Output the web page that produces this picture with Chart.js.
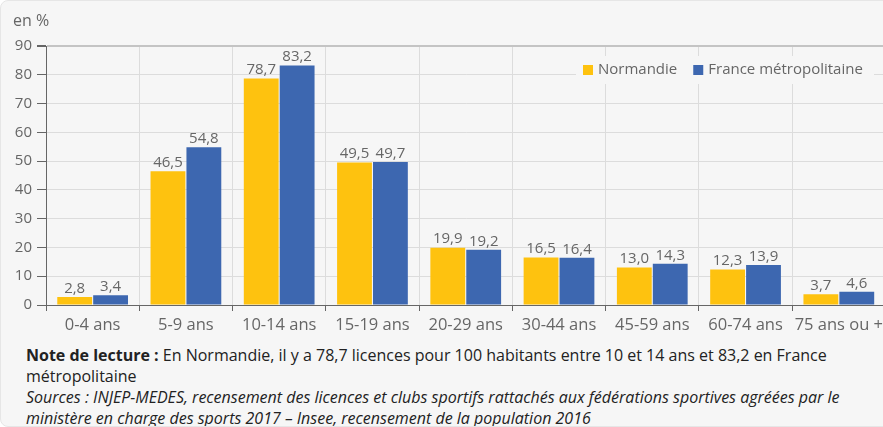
<!DOCTYPE html>
<html lang="fr">
<head>
<meta charset="utf-8">
<script src="https://cdn.jsdelivr.net/npm/chart.js@4.4.1/dist/chart.umd.min.js"></script>
<style>
  html, body { margin: 0; padding: 0; background: #ffffff; overflow: hidden; }
  #card {
    position: relative; width: 900px; height: 427px; overflow: hidden;
    background: #f6f6f6; border-radius: 8px; box-sizing: border-box;
    border: 1px solid #e6e6e6;
    font-family: "Open Sans", sans-serif;
  }
  #wrap { position: absolute; left: 0; top: 0; width: 886px; height: 335px; }
  #unit { position: absolute; left: 12px; top: 8px; font-size: 16px; color: #666; }
  #note {
    position: absolute; left: 25px; top: 344px;
    font-size: 16px; line-height: 21px; color: #222; white-space: nowrap;
  }
  #note b { font-weight: 700; }
</style>
</head>
<body>
<div id="card">
  <div id="wrap"><canvas id="chart"></canvas></div>
  <div id="unit">en %</div>
  <div id="note">
    <div><b>Note de lecture :</b> En Normandie, il y a 78,7 licences pour 100 habitants entre 10 et 14 ans et 83,2 en France<br>métropolitaine</div>
    <div><i>Sources : INJEP-MEDES, recensement des licences et clubs sportifs rattachés aux fédérations sportives agréées par le<br>ministère en charge des sports 2017 – Insee, recensement de la population 2016</i></div>
  </div>
</div>
<script>
// Données
const categories = ["0-4 ans", "5-9 ans", "10-14 ans", "15-19 ans", "20-29 ans", "30-44 ans", "45-59 ans", "60-74 ans", "75 ans ou +"];
const normandie = [2.8, 46.5, 78.7, 49.5, 19.9, 16.5, 13.0, 12.3, 3.7];
const france = [3.4, 54.8, 83.2, 49.7, 19.2, 16.4, 14.3, 13.9, 4.6];
const yTicks = [0, 10, 20, 30, 40, 50, 60, 70, 80, 90];

const fmt = v => v.toFixed(1).replace(".", ",");

// étiquettes au-dessus des barres
const barLabels = {
  id: "barLabels",
  afterDatasetsDraw(chart) {
    const ctx = chart.ctx;
    ctx.save();
    ctx.font = "15px 'Open Sans'";
    ctx.fillStyle = "#666";
    ctx.textAlign = "center";
    ctx.textBaseline = "bottom";
    chart.data.datasets.forEach((ds, i) => {
      chart.getDatasetMeta(i).data.forEach((bar, j) => {
        ctx.fillText(fmt(ds.data[j]), bar.x, bar.y - 1);
      });
    });
    ctx.restore();
  }
};

// légende dans la zone du graphique
const insideLegend = {
  id: "insideLegend",
  afterDraw(chart) {
    const ctx = chart.ctx;
    ctx.save();
    ctx.fillStyle = "#f6f6f6";
    ctx.fillRect(575, 55, 298, 28);
    ctx.font = "15px 'Open Sans'";
    ctx.textBaseline = "middle";
    let x = 582;
    chart.data.datasets.forEach(ds => {
      ctx.fillStyle = ds.backgroundColor;
      ctx.fillRect(x, 64, 10, 10);
      ctx.fillStyle = "#666";
      ctx.fillText(ds.label, x + 15, 69);
      x += 15 + ctx.measureText(ds.label).width + 16;
    });
    ctx.restore();
  }
};

new Chart(document.getElementById("chart"), {
  type: "bar",
  data: {
    labels: categories,
    datasets: [
      { label: "Normandie", data: normandie, backgroundColor: "#fec20f" },
      { label: "France métropolitaine", data: france, backgroundColor: "#3d67b0" }
    ]
  },
  options: {
    responsive: true,
    maintainAspectRatio: false,
    animation: false,
    categoryPercentage: 0.77,
    barPercentage: 0.97,
    layout: { padding: { top: 45, right: 0, left: 0, bottom: 0 } },
    plugins: { legend: { display: false }, tooltip: { enabled: false } },
    scales: {
      x: {
        grid: { color: "#dcdcdc", tickColor: "#666", tickLength: 6, offset: true },
        border: { color: "#666", width: 1 },
        ticks: { color: "#666", font: { family: "Open Sans", size: 16.5 }, padding: 4, maxRotation: 0, autoSkip: false },
        afterFit: s => { s.height = 31; }
      },
      y: {
        min: 0, max: 90,
        afterBuildTicks: s => { s.ticks = yTicks.map(v => ({ value: v })); },
        grid: {
          color: c => c.tick && c.tick.value === 90 ? "#c4c4c4" : "#dcdcdc",
          lineWidth: c => c.tick && c.tick.value === 90 ? 2 : 1,
          tickColor: "#666", tickLength: 9
        },
        border: { color: "#666", width: 1 },
        ticks: { color: "#666", font: { family: "Open Sans", size: 15 }, padding: 5 },
        afterFit: s => { s.width = 45; }
      }
    }
  },
  plugins: [barLabels, insideLegend]
});
</script>
</body>
</html>
